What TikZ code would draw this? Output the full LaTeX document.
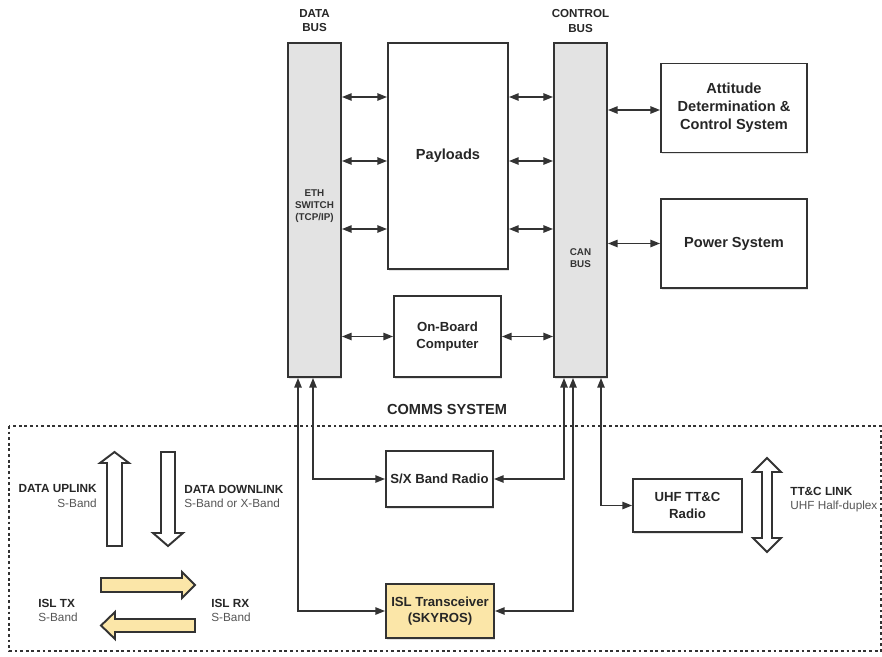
\documentclass[tikz,border=0pt]{standalone}
\usepackage{fontspec}
\setmainfont{Liberation Sans}
\usetikzlibrary{arrows.meta,shadows}

\definecolor{ink}{HTML}{333333}
\definecolor{busgray}{HTML}{E3E3E3}
\definecolor{islfill}{HTML}{FBE6A8}
\definecolor{subgray}{HTML}{555555}

\tikzset{
  size/.style 2 args={minimum width=#1*0.02cm, minimum height=#2*0.02cm},
  box/.style={draw=ink, line width=1.1pt, fill=white, inner sep=0pt, align=center,
    text=black!85, font=\bfseries\fontsize{8.3}{10.2}\selectfont,
    drop shadow={shadow xshift=0.8pt, shadow yshift=-1pt, opacity=0.22}},
  smallbox/.style={box, font=\bfseries\fontsize{7.5}{9.5}\selectfont},
  busbox/.style={box, fill=busgray},
  buslabel/.style={align=center, inner sep=0pt, text=black!85,
    font=\bfseries\fontsize{6.6}{8}\selectfont},
  businner/.style={align=center, inner sep=0pt, text=black!80,
    font=\bfseries\fontsize{5.6}{7}\selectfont},
  sidelabel/.style={inner sep=0pt, text=black!85,
    font=\fontsize{6.7}{8}\selectfont},
  link/.style={draw=ink, line width=0.85pt,
    {Triangle[length=5.5pt,width=4.2pt]}-{Triangle[length=5.5pt,width=4.2pt]}},
  bigarrow/.style={draw=ink, line width=1.1pt, line join=miter, fill=white},
  yellowarrow/.style={bigarrow, fill=islfill},
  commsframe/.style={draw=ink, line width=0.8pt, dash pattern=on 1.6pt off 1.6pt}
}

\begin{document}
\begin{tikzpicture}[x=0.02cm, y=-0.02cm]
  \useasboundingbox (0,0) rectangle (882,656);

  % frame of the communications subsystem
  \draw[commsframe] (9,426) rectangle (881,651);

  % buses
  \node[busbox, size={53}{334}] (dbus) at (314.5,210) {};
  \node[busbox, size={53}{334}] (cbus) at (580.5,210) {};
  \node[businner] (ethtext) at (314.5,206) {ETH\\SWITCH\\(TCP/IP)};
  \node[businner] (cantext) at (580.5,258) {CAN\\BUS};
  \node[buslabel] (dbuslabel) at (314.5,21) {DATA\\BUS};
  \node[buslabel] (cbuslabel) at (580.5,21) {CONTROL\\BUS};

  % subsystems
  \node[box, size={120}{226}] (pay) at (448,156) {Payloads};
  \node[box, size={146}{89}] (adcs) at (734,108)
    {Attitude\\Determination \&\\Control System};
  \node[box, size={146}{89}] (eps) at (734,243.5) {Power System};
  \node[smallbox, size={107}{81}] (obc) at (447.5,336.5) {On-Board\\Computer};

  \node[font=\bfseries\fontsize{8.3}{10}\selectfont, text=black!85, inner sep=0pt]
    (commstitle) at (447,409) {COMMS SYSTEM};

  % radios
  \node[smallbox, size={107}{56}] (sx) at (439.5,479) {S/X Band Radio};
  \node[smallbox, size={109}{53}] (uhf) at (687.5,505.5) {UHF TT\&C\\Radio};
  \node[smallbox, fill=islfill, size={108}{54}] (isl) at (440,611)
    {ISL Transceiver\\(SKYROS)};

  % bus taps
  \foreach \y in {97,161,229} {
    \draw[link] (dbus.east |- 0,\y) -- (pay.west |- 0,\y);
    \draw[link] (pay.east |- 0,\y) -- (cbus.west |- 0,\y);
  }
  \coordinate (adcstap) at (0,110);
  \draw[link] (cbus.east |- adcstap) -- (adcs.west |- adcstap);
  \draw[link] (cbus.east |- eps.west) -- (eps.west);
  \draw[link] (dbus.east |- obc.west) -- (obc.west);
  \draw[link] (obc.east) -- (cbus.west |- obc.east);

  % radio connections
  \coordinate (dsx) at (313,0);
  \coordinate (disl) at (298,0);
  \coordinate (csx) at (564,0);
  \coordinate (cisl) at (573,0);
  \coordinate (cuhf) at (601,0);
  \draw[link] (dbus.south -| dsx) |- (sx.west);
  \draw[link] (dbus.south -| disl) |- (isl.west);
  \draw[link] (cbus.south -| csx) |- (sx.east);
  \draw[link] (cbus.south -| cisl) |- (isl.east);
  \draw[link] (cbus.south -| cuhf) |- (uhf.west);

  % space links
  \draw[bigarrow] (107,546) -- (107,463) -- (100,463) -- (114.5,452) -- (129,463)
    -- (122,463) -- (122,546) -- cycle;
  \draw[bigarrow] (161,452) -- (175,452) -- (175,533) -- (183,533) -- (168,546)
    -- (153,533) -- (161,533) -- cycle;
  \draw[yellowarrow] (101,578) -- (182,578) -- (182,572) -- (195,585) -- (182,598)
    -- (182,592) -- (101,592) -- cycle;
  \draw[yellowarrow] (195,619) -- (115,619) -- (115,612) -- (101,625.5) -- (115,639)
    -- (115,632) -- (195,632) -- cycle;
  \draw[bigarrow] (767,458) -- (781,472) -- (772,472) -- (772,538) -- (781,538)
    -- (767,552) -- (753,538) -- (762,538) -- (762,472) -- (753,472) -- cycle;

  \node[sidelabel, anchor=east, align=right] (uplabel) at (97,496)
    {\textbf{DATA UPLINK}\\\textcolor{subgray}{S-Band}};
  \node[sidelabel, anchor=west, align=left] (downlabel) at (184,496)
    {\textbf{DATA DOWNLINK}\\\textcolor{subgray}{S-Band or X-Band}};
  \node[sidelabel, anchor=west, align=left] (txlabel) at (38,610)
    {\textbf{ISL TX}\\\textcolor{subgray}{S-Band}};
  \node[sidelabel, anchor=west, align=left] (rxlabel) at (211,610)
    {\textbf{ISL RX}\\\textcolor{subgray}{S-Band}};
  \node[sidelabel, anchor=west, align=left] (ttclabel) at (790,500)
    {\textbf{TT\&C LINK}\\\textcolor{subgray}{UHF Half-duplex}};
\end{tikzpicture}
\end{document}
